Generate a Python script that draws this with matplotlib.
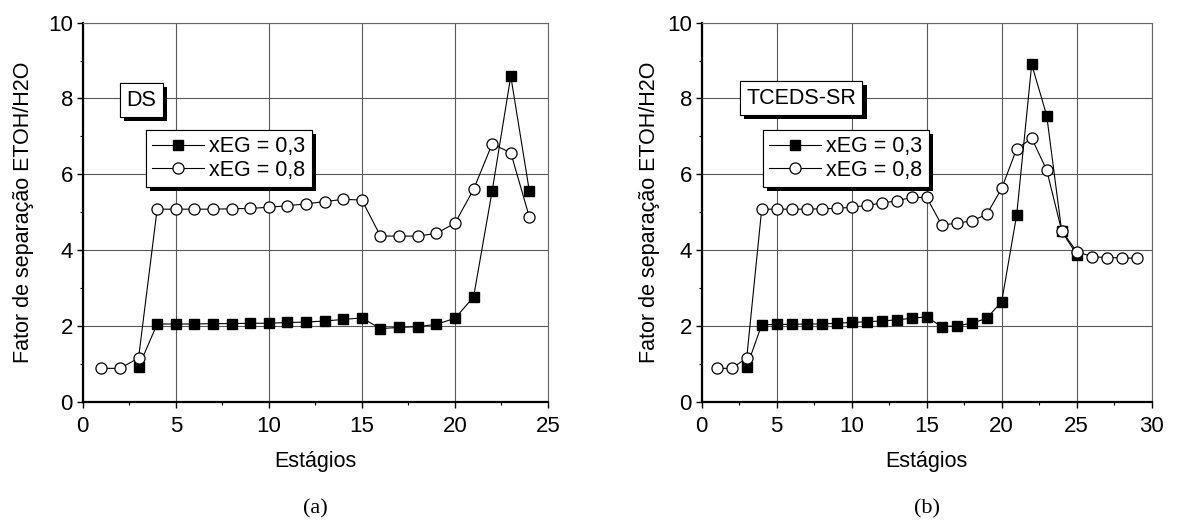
import matplotlib
matplotlib.use("Agg")
import matplotlib.pyplot as plt
from matplotlib import patheffects
from matplotlib.ticker import MultipleLocator

plt.rcParams['font.family'] = ['Liberation Sans', 'DejaVu Sans']

# ---- data (a) DS ----
a_x03 = list(range(3, 25))
a_y03 = [0.91, 2.05, 2.05, 2.05, 2.06, 2.06, 2.07, 2.07, 2.09, 2.10, 2.13, 2.17,
         2.21, 1.93, 1.96, 1.98, 2.04, 2.20, 2.76, 5.56, 8.59, 5.55]
a_x08 = list(range(1, 25))
a_y08 = [0.88, 0.88, 1.15, 5.08, 5.08, 5.08, 5.08, 5.09, 5.10, 5.13, 5.17, 5.22,
         5.28, 5.34, 5.32, 4.37, 4.37, 4.37, 4.44, 4.71, 5.60, 6.80, 6.57, 4.87]

# ---- data (b) TCEDS-SR ----
b_x03 = list(range(3, 26))
b_y03 = [0.91, 2.03, 2.04, 2.04, 2.05, 2.05, 2.07, 2.09, 2.11, 2.13, 2.16, 2.20,
         2.24, 1.98, 2.00, 2.07, 2.20, 2.64, 4.93, 8.90, 7.55, 4.50, 3.88]
b_x08 = list(range(1, 30))
b_y08 = [0.88, 0.88, 1.15, 5.08, 5.08, 5.08, 5.08, 5.09, 5.10, 5.13, 5.18, 5.24,
         5.30, 5.39, 5.39, 4.66, 4.71, 4.77, 4.94, 5.63, 6.67, 6.95, 6.11, 4.51,
         3.96, 3.83, 3.80, 3.80, 3.78]

labels = ['xEG = 0,3', 'xEG = 0,8']
titles = ['DS', 'TCEDS-SR']
xlims = [25, 30]
captions = ['(a)', '(b)']
xlabel = 'Estágios'
ylabel = 'Fator de separação ETOH/H2O'

W, H = 1183, 521
fig = plt.figure(figsize=(W / 100, H / 100), dpi=100)

axes_px = [(82.7, 22.7, 465.3, 379.0), (701.7, 22.7, 450.0, 379.0)]
datasets = [(a_x03, a_y03, a_x08, a_y08), (b_x03, b_y03, b_x08, b_y08)]
box_pos = [(0.126, 0.796), (0.2207, 0.801)]
ylabel_x = [24, 650]

shadow = [patheffects.withSimplePatchShadow(offset=(3, -3), shadow_rgbFace='black', alpha=1),
          patheffects.Normal()]

for i, ((l, t, w, h), (x3, y3, x8, y8)) in enumerate(zip(axes_px, datasets)):
    ax = fig.add_axes([l / W, 1 - (t + h) / H, w / W, h / H])
    ax.plot(x3, y3, '-', color='black', lw=0.8, marker='s', ms=6.5,
            mfc='black', mec='black', label=labels[0], zorder=3)
    ax.plot(x8, y8, '-', color='black', lw=0.8, marker='o', ms=8,
            mfc='white', mec='black', mew=0.9, label=labels[1], zorder=3)
    ax.set_xlim(0, xlims[i])
    ax.set_ylim(0, 10)
    ax.xaxis.set_major_locator(MultipleLocator(5))
    ax.xaxis.set_minor_locator(MultipleLocator(2.5))
    ax.yaxis.set_major_locator(MultipleLocator(2))
    ax.yaxis.set_minor_locator(MultipleLocator(1))
    ax.grid(True, which='major', color='0.35', lw=0.8)
    ax.set_axisbelow(True)
    ax.tick_params(which='major', direction='out', length=4, width=1, labelsize=16)
    ax.tick_params(axis='x', which='major', pad=6.5)
    ax.tick_params(axis='y', which='major', pad=3)
    ax.tick_params(which='minor', direction='out', length=2.5, width=0.8)
    for s in ['left', 'bottom']:
        ax.spines[s].set_linewidth(1.6)
    for s in ['top', 'right']:
        ax.spines[s].set_linewidth(0.8)
        ax.spines[s].set_color('0.4')

    fig.text((l + w / 2) / W, 1 - 461 / H, xlabel, ha='center', va='center', fontsize=15.5)
    fig.text(ylabel_x[i] / W, 1 - (t + h / 2) / H, ylabel, rotation=90,
             ha='center', va='center', fontsize=15.5)

    leg = ax.legend(loc='upper left', bbox_to_anchor=(0.136, 0.717),
                    borderaxespad=0, fontsize=15.5, frameon=True, fancybox=False,
                    edgecolor='black', handlelength=2.4, handletextpad=0.25,
                    borderpad=0.3, labelspacing=0.1, framealpha=1)
    leg.get_frame().set_linewidth(0.8)
    leg.get_frame().set_path_effects(shadow)

    tx = ax.text(box_pos[i][0], box_pos[i][1], titles[i], transform=ax.transAxes,
                 ha='center', va='center', fontsize=15.5, zorder=5,
                 bbox=dict(boxstyle='square,pad=0.3', fc='white', ec='black', lw=0.8))
    tx.get_bbox_patch().set_path_effects(shadow)

    fig.text((l + w / 2) / W, 1 - 509 / H, captions[i], ha='center', va='center',
             fontsize=16, family='Liberation Serif')

fig.savefig('out.png', dpi=100)
